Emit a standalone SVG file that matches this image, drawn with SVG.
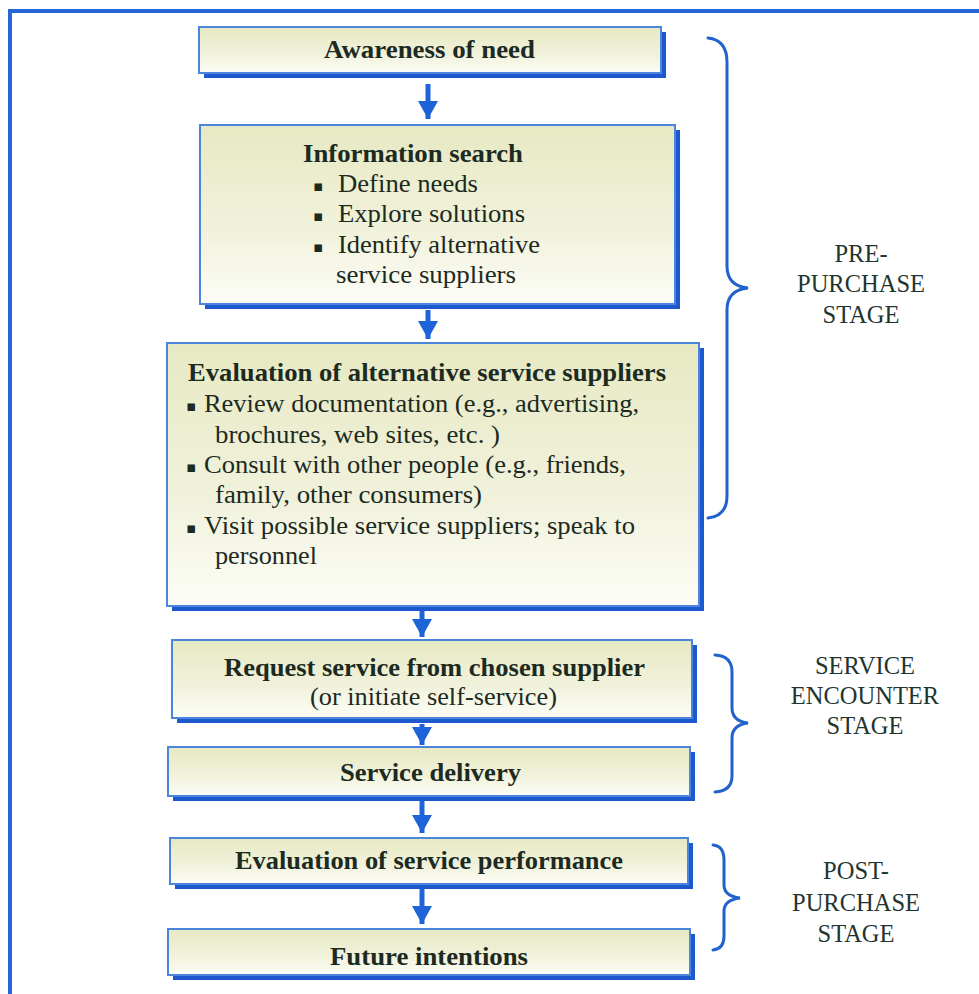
<svg xmlns="http://www.w3.org/2000/svg" width="979" height="994" viewBox="0 0 979 994">
<style>
.frame{fill:none;stroke:#2766d6;stroke-width:4}
.shadow{fill:#1d58cf}
.box{fill:url(#boxfill);stroke:#4a86de;stroke-width:2}
.t{font-family:"Liberation Serif","Times New Roman",serif;fill:#1c2a1f}
.b{font-weight:bold;font-size:26px}
.r{font-size:25px}
.bul{font-family:"DejaVu Sans",sans-serif;font-size:15px;fill:#1c2a1f}
.stage{font-family:"Liberation Serif","Times New Roman",serif;font-size:24.5px;fill:#1f3530;text-anchor:middle}
.conn{stroke:#1f63d8;stroke-width:5;fill:none}
.brace{stroke:#2262cc;stroke-width:3;fill:none;stroke-linecap:round}
</style>
<defs>
<linearGradient id="boxfill" x1="0" y1="0" x2="0" y2="1">
<stop offset="0" stop-color="#e7e9c3"/>
<stop offset="0.6" stop-color="#f1f2dc"/>
<stop offset="1" stop-color="#fdfdf7"/>
</linearGradient>
<marker id="ah" markerUnits="userSpaceOnUse" markerWidth="22" markerHeight="22" refX="18" refY="10" orient="auto">
<path d="M0,0 L18,10 L0,20 z" fill="#1f63d8"/>
</marker>
</defs>
<rect width="979" height="994" fill="#ffffff"/>
<rect class="frame" x="10" y="11" width="1000" height="1010"/>

<g id="connectors">
<line class="conn" x1="428" y1="84" x2="428" y2="119" marker-end="url(#ah)"/>
<line class="conn" x1="428" y1="310" x2="428" y2="339" marker-end="url(#ah)"/>
<line class="conn" x1="422" y1="611" x2="422" y2="637" marker-end="url(#ah)"/>
<line class="conn" x1="422" y1="724" x2="422" y2="745" marker-end="url(#ah)"/>
<line class="conn" x1="422" y1="801" x2="422" y2="833" marker-end="url(#ah)"/>
<line class="conn" x1="422" y1="889" x2="422" y2="924" marker-end="url(#ah)"/>
</g>

<g id="awareness">
<rect class="shadow" x="204" y="32" width="462" height="46"/>
<rect class="box" x="199" y="27" width="462" height="46"/>
<text class="t b" x="324" y="58" textLength="211" lengthAdjust="spacingAndGlyphs">Awareness of need</text>
</g>

<g id="information-search">
<rect class="shadow" x="205" y="130" width="475" height="179"/>
<rect class="box" x="200" y="125" width="475" height="179"/>
<text class="t b" x="303" y="162" textLength="220" lengthAdjust="spacingAndGlyphs">Information search</text>
<text class="bul" x="313" y="191">▪</text>
<text class="t r" x="338" y="192" textLength="140" lengthAdjust="spacingAndGlyphs">Define needs</text>
<text class="bul" x="313" y="221">▪</text>
<text class="t r" x="338" y="222" textLength="187" lengthAdjust="spacingAndGlyphs">Explore solutions</text>
<text class="bul" x="313" y="252">▪</text>
<text class="t r" x="338" y="253" textLength="202" lengthAdjust="spacingAndGlyphs">Identify alternative</text>
<text class="t r" x="336" y="283" textLength="180" lengthAdjust="spacingAndGlyphs">service suppliers</text>
</g>

<g id="evaluation-alternatives">
<rect class="shadow" x="172" y="348" width="532" height="263"/>
<rect class="box" x="167" y="343" width="532" height="263"/>
<text class="t b" x="188" y="381" textLength="478" lengthAdjust="spacingAndGlyphs">Evaluation of alternative service suppliers</text>
<text class="bul" x="186" y="411">▪</text>
<text class="t r" x="204" y="412" textLength="435" lengthAdjust="spacingAndGlyphs">Review documentation (e.g., advertising,</text>
<text class="t r" x="215" y="443" textLength="285" lengthAdjust="spacingAndGlyphs">brochures, web sites, etc. )</text>
<text class="bul" x="186" y="472">▪</text>
<text class="t r" x="204" y="473" textLength="422" lengthAdjust="spacingAndGlyphs">Consult with other people (e.g., friends,</text>
<text class="t r" x="215" y="503" textLength="267" lengthAdjust="spacingAndGlyphs">family, other consumers)</text>
<text class="bul" x="186" y="533">▪</text>
<text class="t r" x="204" y="534" textLength="431" lengthAdjust="spacingAndGlyphs">Visit possible service suppliers; speak to</text>
<text class="t r" x="215" y="564" textLength="102" lengthAdjust="spacingAndGlyphs">personnel</text>
</g>

<g id="request-service">
<rect class="shadow" x="177" y="645" width="520" height="78"/>
<rect class="box" x="172" y="640" width="520" height="78"/>
<text class="t b" x="224" y="676" textLength="421" lengthAdjust="spacingAndGlyphs">Request service from chosen supplier</text>
<text class="t r" x="310" y="705" textLength="247" lengthAdjust="spacingAndGlyphs">(or initiate self-service)</text>
</g>

<g id="service-delivery">
<rect class="shadow" x="173" y="752" width="522" height="49"/>
<rect class="box" x="168" y="747" width="522" height="49"/>
<text class="t b" x="340" y="781" textLength="181" lengthAdjust="spacingAndGlyphs">Service delivery</text>
</g>

<g id="evaluation-performance">
<rect class="shadow" x="175" y="843" width="518" height="46"/>
<rect class="box" x="170" y="838" width="518" height="46"/>
<text class="t b" x="235" y="869" textLength="388" lengthAdjust="spacingAndGlyphs">Evaluation of service performance</text>
</g>

<g id="future-intentions">
<rect class="shadow" x="173" y="934" width="522" height="46"/>
<rect class="box" x="168" y="929" width="522" height="46"/>
<text class="t b" x="330" y="965" textLength="198" lengthAdjust="spacingAndGlyphs">Future intentions</text>
</g>

<g id="pre-purchase-stage">
<path class="brace" d="M708,38 Q727,40 727,62 L727,266 Q727,286 748,288 Q727,290 727,310 L727,496 Q727,516 708,518"/>
<text class="stage" x="861" y="262">PRE-</text>
<text class="stage" x="861" y="292">PURCHASE</text>
<text class="stage" x="861" y="323">STAGE</text>
</g>

<g id="service-encounter-stage">
<path class="brace" d="M715,655 Q732,656 732,672 L732,708 Q732,721 748,723 Q732,725 732,738 L732,776 Q732,791 715,792"/>
<text class="stage" x="865" y="674">SERVICE</text>
<text class="stage" x="865" y="704">ENCOUNTER</text>
<text class="stage" x="865" y="734">STAGE</text>
</g>

<g id="post-purchase-stage">
<path class="brace" d="M713,845 Q724,846 724,860 L724,885 Q724,896 740,898 Q724,900 724,911 L724,936 Q724,949 713,950"/>
<text class="stage" x="856" y="879">POST-</text>
<text class="stage" x="856" y="911">PURCHASE</text>
<text class="stage" x="856" y="942">STAGE</text>
</g>
</svg>
